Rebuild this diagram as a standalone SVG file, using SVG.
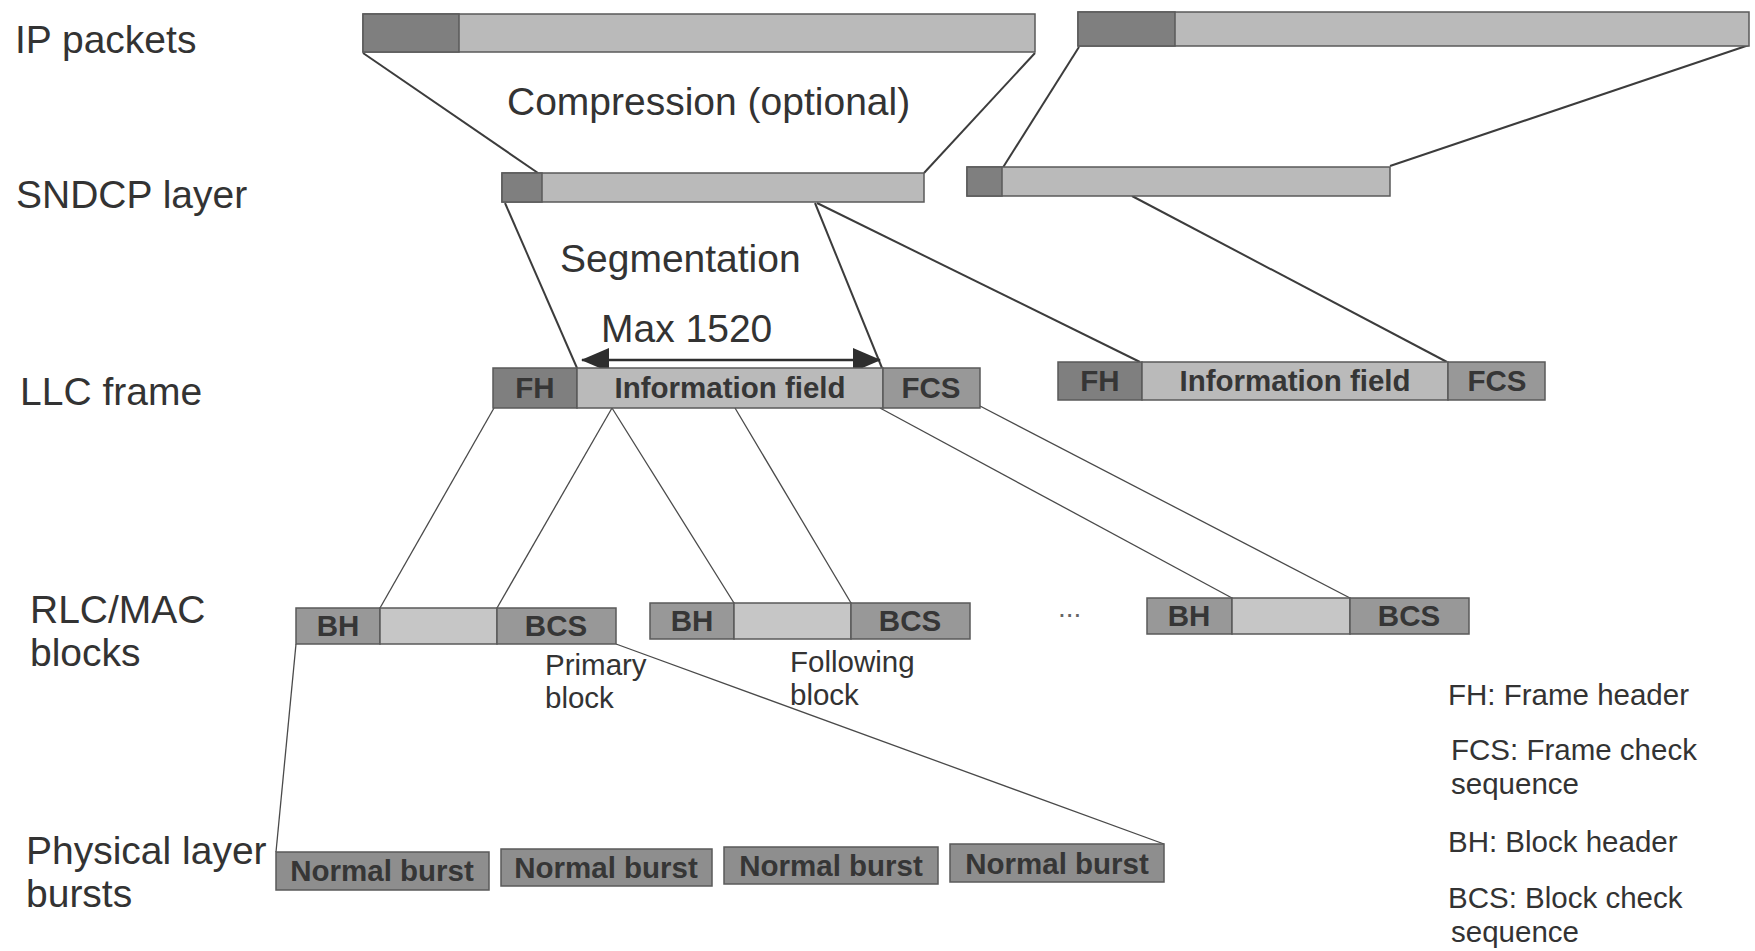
<svg xmlns="http://www.w3.org/2000/svg" width="1755" height="951" viewBox="0 0 1755 951">
  <style>
    .lbl { font-family: "Liberation Sans", Arial, sans-serif; font-size: 39px; fill: #333; }
    .note { font-family: "Liberation Sans", Arial, sans-serif; font-size: 29.5px; fill: #333; }
    .in { font-family: "Liberation Sans", Arial, sans-serif; font-size: 29.5px; font-weight: bold; fill: #363636; text-anchor: middle; }
    .dark { fill: #7f7f7f; stroke: #5a5a5a; stroke-width: 1.5; }
    .mid { fill: #989898; stroke: #5a5a5a; stroke-width: 1.5; }
    .light { fill: #bababa; stroke: #5a5a5a; stroke-width: 1.5; }
    .pale { fill: #c6c6c6; stroke: #5a5a5a; stroke-width: 1.5; }
    .burst { fill: #8e8e8e; stroke: #5a5a5a; stroke-width: 1.5; }
    .thick { stroke: #3c3c3c; stroke-width: 2; fill: none; }
    .thin { stroke: #4a4a4a; stroke-width: 1.3; fill: none; }
  </style>
  <defs>
    <marker id="head" viewBox="0 0 28 24" refX="27" refY="12" markerWidth="28" markerHeight="24" markerUnits="userSpaceOnUse" orient="auto-start-reverse">
      <path d="M0,0 L28,12 L0,24 Z" fill="#2e2e2e"/>
    </marker>
  </defs>

  <rect width="1755" height="951" fill="#ffffff"/>

  <!-- layer names on the left -->
  <g id="layer-labels">
    <text class="lbl" x="15" y="53">IP packets</text>
    <text class="lbl" x="16" y="208">SNDCP layer</text>
    <text class="lbl" x="20" y="405">LLC frame</text>
    <text class="lbl" x="30" y="623">RLC/MAC</text>
    <text class="lbl" x="30" y="666">blocks</text>
    <text class="lbl" x="26" y="864">Physical layer</text>
    <text class="lbl" x="26" y="907">bursts</text>
  </g>

  <!-- connectors -->
  <g id="connectors">
    <!-- IP packets to SNDCP -->
    <line class="thick" x1="363" y1="53" x2="538" y2="173"/>
    <line class="thick" x1="1035" y1="53" x2="924" y2="173"/>
    <line class="thick" x1="1079" y1="47" x2="1002" y2="169"/>
    <line class="thick" x1="1749" y1="45" x2="1390" y2="166"/>
    <!-- SNDCP to LLC -->
    <line class="thick" x1="505" y1="203" x2="577" y2="368"/>
    <line class="thick" x1="815" y1="203" x2="882" y2="368"/>
    <line class="thick" x1="817" y1="203" x2="1140" y2="362"/>
    <line class="thick" x1="1132" y1="196" x2="1447" y2="362"/>
    <!-- LLC to RLC/MAC blocks -->
    <line class="thin" x1="494" y1="408" x2="380" y2="608"/>
    <line class="thin" x1="612" y1="408" x2="497" y2="608"/>
    <line class="thin" x1="612" y1="408" x2="734" y2="603"/>
    <line class="thin" x1="735" y1="408" x2="851" y2="603"/>
    <line class="thin" x1="880" y1="408" x2="1232" y2="598"/>
    <line class="thin" x1="980" y1="406" x2="1350" y2="598"/>
    <!-- RLC/MAC block to bursts -->
    <line class="thin" x1="296" y1="644" x2="276" y2="852"/>
    <line class="thin" x1="616" y1="644" x2="1164" y2="844"/>
    <!-- max length of the information field -->
    <line x1="582" y1="360" x2="880" y2="360" stroke="#2e2e2e" stroke-width="2.5" marker-start="url(#head)" marker-end="url(#head)"/>
  </g>

  <g id="step-labels">
    <text class="lbl" x="507" y="115">Compression (optional)</text>
    <text class="lbl" x="560" y="272">Segmentation</text>
    <text class="lbl" x="601" y="342">Max 1520</text>
  </g>

  <!-- IP packets -->
  <g id="ip-packet-1">
    <rect class="light" x="363" y="14" width="672" height="38"/>
    <rect class="dark" x="363" y="14" width="96" height="38"/>
  </g>
  <g id="ip-packet-2">
    <rect class="light" x="1078" y="12" width="671" height="34"/>
    <rect class="dark" x="1078" y="12" width="97" height="34"/>
  </g>

  <!-- SNDCP units -->
  <g id="sndcp-1">
    <rect class="light" x="502" y="173" width="422" height="29"/>
    <rect class="dark" x="502" y="173" width="40" height="29"/>
  </g>
  <g id="sndcp-2">
    <rect class="light" x="967" y="167" width="423" height="29"/>
    <rect class="dark" x="967" y="167" width="35" height="29"/>
  </g>

  <!-- LLC frames -->
  <g id="llc-1">
    <rect class="dark" x="493" y="368" width="84" height="40"/>
    <rect class="light" x="577" y="368" width="306" height="40"/>
    <rect class="mid" x="883" y="368" width="97" height="40"/>
    <text class="in" x="535" y="398">FH</text>
    <text class="in" x="730" y="398">Information field</text>
    <text class="in" x="931" y="398">FCS</text>
  </g>
  <g id="llc-2">
    <rect class="dark" x="1058" y="362" width="84" height="38"/>
    <rect class="light" x="1142" y="362" width="306" height="38"/>
    <rect class="mid" x="1448" y="362" width="97" height="38"/>
    <text class="in" x="1100" y="391">FH</text>
    <text class="in" x="1295" y="391">Information field</text>
    <text class="in" x="1497" y="391">FCS</text>
  </g>

  <!-- RLC/MAC blocks -->
  <g id="block-primary">
    <rect class="mid" x="296" y="608" width="84" height="36"/>
    <rect class="pale" x="380" y="608" width="117" height="36"/>
    <rect class="mid" x="497" y="608" width="119" height="36"/>
    <text class="in" x="338" y="636">BH</text>
    <text class="in" x="556" y="636">BCS</text>
    <text class="note" x="545" y="675">Primary</text>
    <text class="note" x="545" y="708">block</text>
  </g>
  <g id="block-following">
    <rect class="mid" x="650" y="603" width="84" height="36"/>
    <rect class="pale" x="734" y="603" width="117" height="36"/>
    <rect class="mid" x="851" y="603" width="119" height="36"/>
    <text class="in" x="692" y="631">BH</text>
    <text class="in" x="910" y="631">BCS</text>
    <text class="note" x="790" y="672">Following</text>
    <text class="note" x="790" y="705">block</text>
  </g>
  <g id="block-ellipsis">
    <text x="1058" y="617" font-family="Liberation Sans, Arial, sans-serif" font-size="28" fill="#666">...</text>
  </g>
  <g id="block-last">
    <rect class="mid" x="1147" y="598" width="85" height="36"/>
    <rect class="pale" x="1232" y="598" width="118" height="36"/>
    <rect class="mid" x="1350" y="598" width="119" height="36"/>
    <text class="in" x="1189" y="626">BH</text>
    <text class="in" x="1409" y="626">BCS</text>
  </g>

  <!-- physical layer bursts -->
  <g id="burst-1">
    <rect class="burst" x="276" y="852" width="213" height="38"/>
    <text class="in" x="382" y="881">Normal burst</text>
  </g>
  <g id="burst-2">
    <rect class="burst" x="501" y="849" width="211" height="37"/>
    <text class="in" x="606" y="878">Normal burst</text>
  </g>
  <g id="burst-3">
    <rect class="burst" x="724" y="847" width="214" height="37"/>
    <text class="in" x="831" y="876">Normal burst</text>
  </g>
  <g id="burst-4">
    <rect class="burst" x="950" y="844" width="214" height="38"/>
    <text class="in" x="1057" y="874">Normal burst</text>
  </g>

  <!-- abbreviations -->
  <g id="legend">
    <text class="note" x="1448" y="705">FH: Frame header</text>
    <text class="note" x="1451" y="760">FCS: Frame check</text>
    <text class="note" x="1451" y="794">sequence</text>
    <text class="note" x="1448" y="852">BH: Block header</text>
    <text class="note" x="1448" y="908">BCS: Block check</text>
    <text class="note" x="1451" y="942">sequence</text>
  </g>
</svg>
